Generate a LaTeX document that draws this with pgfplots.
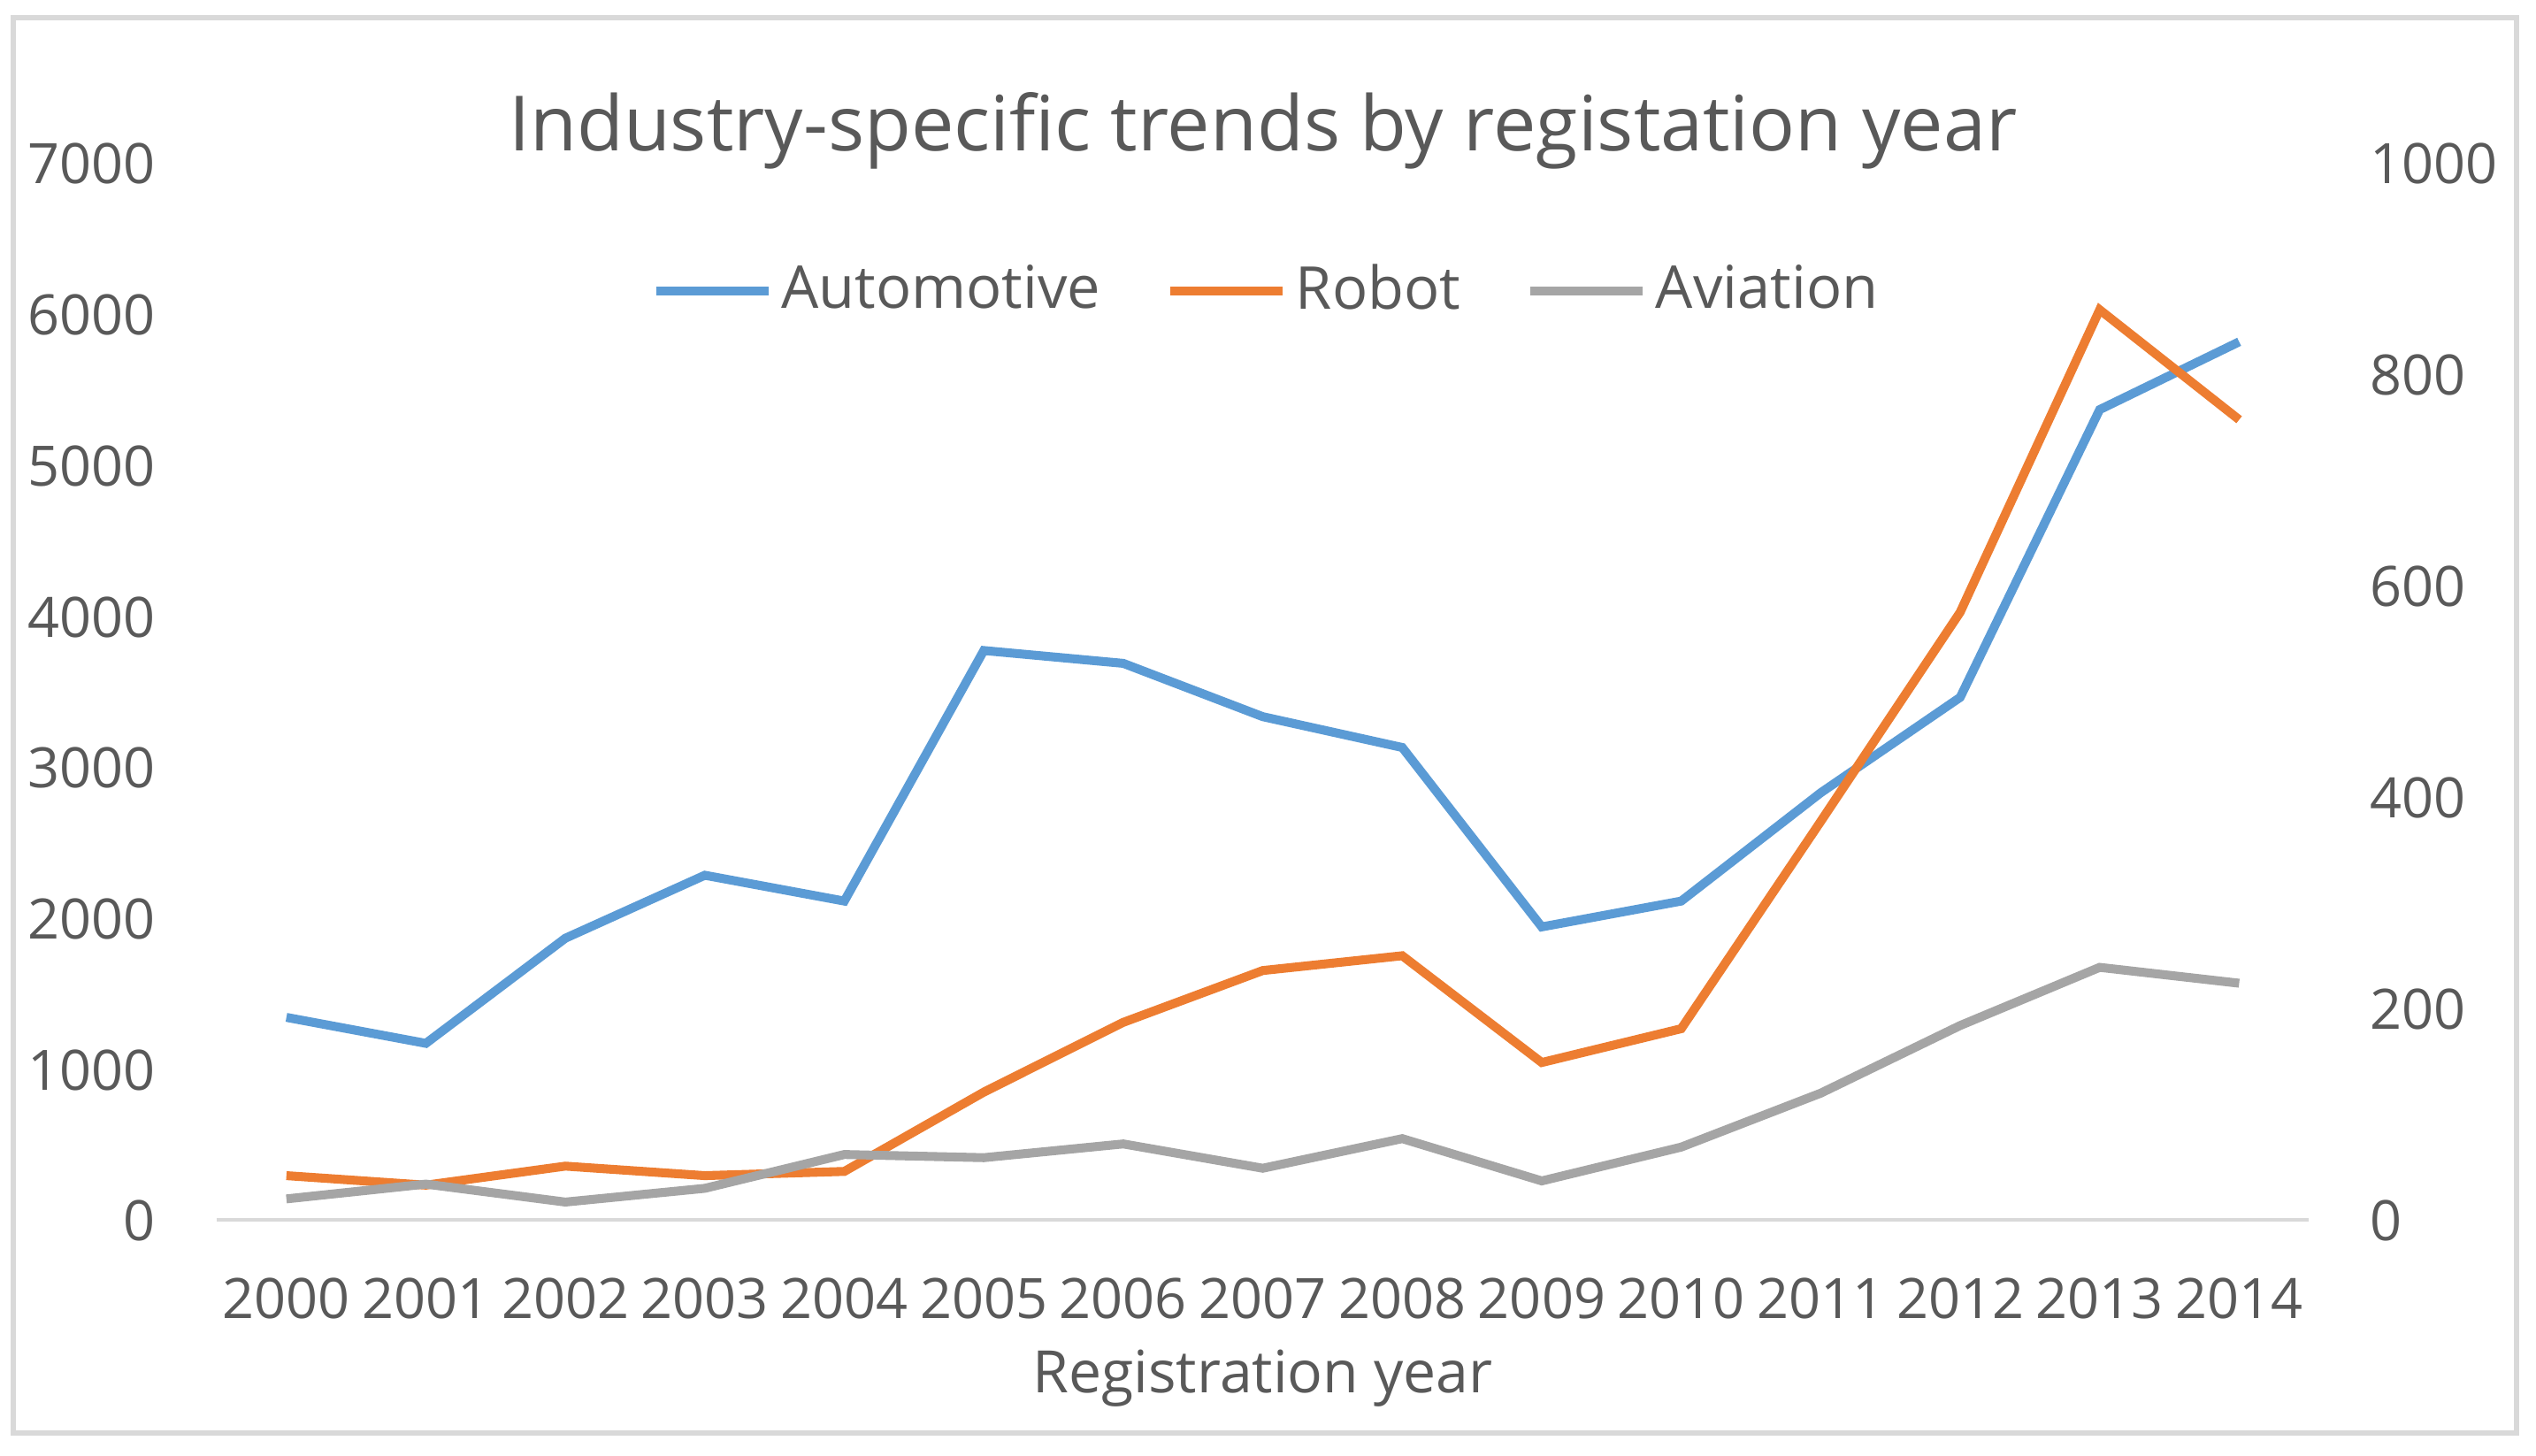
\documentclass[border=0pt]{standalone}
\usepackage{fontspec}
\setmainfont{Open Sans}
\usepackage{pgfplots}
\pgfplotsset{compat=1.18}

\definecolor{autoblue}{HTML}{5B9BD5}
\definecolor{robotorange}{HTML}{ED7D31}
\definecolor{aviagray}{HTML}{A5A5A5}
\definecolor{txtgray}{HTML}{595959}
\definecolor{linegray}{HTML}{D9D9D9}

\pgfplotsset{
  common/.style={
    scale only axis,
    width=13.2cm, height=6.67cm,
    xmin=-0.5, xmax=14.5,
    ymin=0,
    axis line style={draw=none},
    major tick length=0pt,
    tick style={draw=none},
    /pgf/number format/assume math mode=true,
    /pgf/number format/1000 sep={},
    tick label style={font=\fontsize{10}{12}\selectfont, text=txtgray},
  },
}

\begin{document}
\begin{tikzpicture}
% outer frame and page size
\path (-1.367,-1.480) rectangle (14.633,7.704);
\draw[linegray, line width=0.9pt] (-1.285,-1.338) rectangle (14.51,7.592);

\begin{axis}[
  common,
  ymax=7000,
  ytick={0,1000,...,7000},
  yticklabel style={anchor=east, xshift=-0.38cm, inner sep=0pt},
  xtick={0,...,14},
  xticklabels={2000,2001,2002,2003,2004,2005,2006,2007,2008,2009,2010,2011,2012,2013,2014},
  xticklabel style={anchor=center, yshift=-0.49cm},
  xlabel={Registration year},
  xlabel style={at={(axis description cs:0.5,0)}, anchor=center, yshift=-0.99cm,
    font=\fontsize{10.5}{12}\selectfont, text=txtgray},
  title={Industry-specific trends by registation year},
  title style={at={(axis description cs:0.5,1.0)}, anchor=center,
    font=\fontsize{13.7}{16}\selectfont, text=txtgray},
  legend style={at={(0.503,0.88)}, anchor=center, draw=none, fill=none,
    legend columns=-1, font=\fontsize{10.6}{12}\selectfont, text=txtgray,
    nodes={inner sep=0.15em},
    /tikz/every even column/.append style={column sep=0.36cm}},
  legend image code/.code={\draw[#1] (0cm,0cm) -- (0.71cm,0cm);},
]
\draw[linegray, line width=1pt] (axis description cs:0,0) -- (axis description cs:1,0);
\addplot[autoblue, line width=1.6pt] coordinates {
(0,1349) (1,1177) (2,1873) (3,2290) (4,2119) (5,3778) (6,3693) (7,3340)
(8,3136) (9,1948) (10,2119) (11,2836) (12,3468) (13,5373) (14,5822)
};
\addlegendentry{Automotive}
\addlegendimage{robotorange, line width=1.6pt}
\addlegendentry{Robot}
\addlegendimage{aviagray, line width=1.6pt}
\addlegendentry{Aviation}
\end{axis}

\begin{axis}[
  common,
  ymax=1000,
  ytick={0,200,...,1000},
  yticklabel pos=right,
  yticklabel style={anchor=west, xshift=0.38cm, inner sep=0pt},
  xtick=\empty,
]
\addplot[robotorange, line width=1.6pt] coordinates {
(0,43) (1,34) (2,52) (3,43) (4,47) (5,122) (6,188) (7,237)
(8,251) (9,150) (10,182) (11,378) (12,576) (13,862) (14,758)
};
\addplot[aviagray, line width=1.6pt] coordinates {
(0,21) (1,35) (2,18) (3,31) (4,63) (5,60) (6,73) (7,50)
(8,78) (9,38) (10,70) (11,121) (12,185) (13,240) (14,225)
};
\end{axis}
\end{tikzpicture}
\end{document}
